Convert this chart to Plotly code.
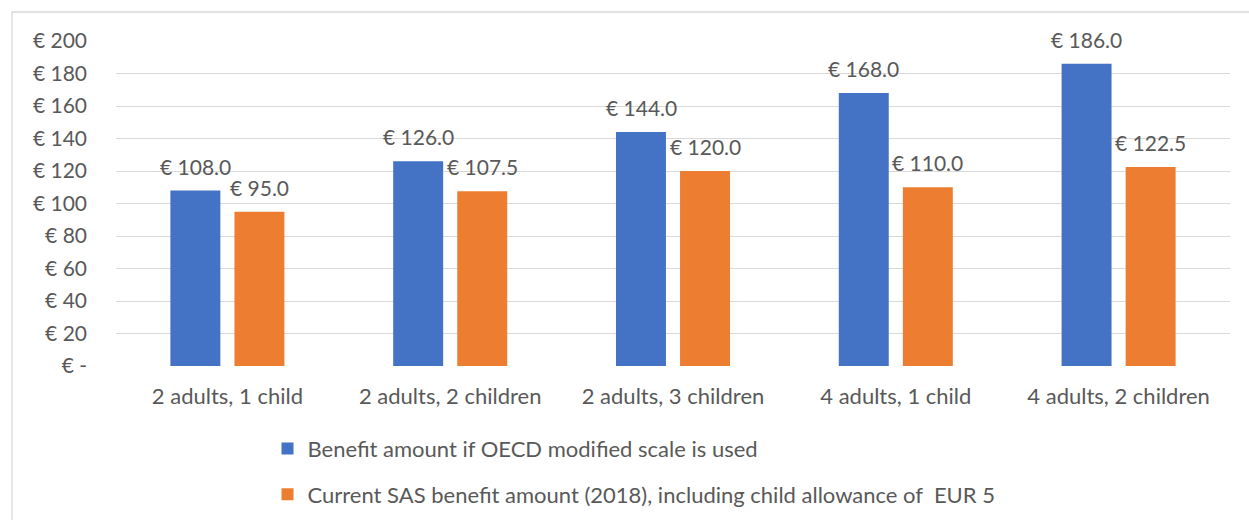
import plotly.graph_objects as go

categories = ["2 adults, 1 child", "2 adults, 2 children", "2 adults, 3 children",
              "4 adults, 1 child", "4 adults, 2 children"]
oecd_values = [108.0, 126.0, 144.0, 168.0, 186.0]
sas_values = [95.0, 107.5, 120.0, 110.0, 122.5]
series_names = ["Benefit amount if OECD modified scale is used",
                "Current SAS benefit amount (2018), including child allowance of  EUR 5"]
y_ticks = [0, 20, 40, 60, 80, 100, 120, 140, 160, 180, 200]
y_tick_labels = ["€ -"] + [f"€ {v}" for v in y_ticks[1:]]

BLUE = "#4472C4"
ORANGE = "#ED7D31"
TEXT = "#595959"
GRID = "#D9D9D9"
FONT = "Lato"

fig = go.Figure()
fig.add_trace(go.Bar(x=categories, y=oecd_values, name=series_names[0],
                     marker=dict(color=BLUE, line=dict(width=0)),
                     legendgroup="a"))
fig.add_trace(go.Bar(x=categories, y=sas_values, name=series_names[1],
                     marker=dict(color=ORANGE, line=dict(width=0)),
                     legendgroup="b"))

# value labels above each bar
annotations = []
for series, shift in ((oecd_values, -32), (sas_values, 32)):
    for cat, val in zip(categories, series):
        annotations.append(dict(x=cat, y=val, xref="x", yref="y", text=f"€ {val:.1f}",
                                showarrow=False, xshift=shift, yanchor="bottom", yshift=10,
                                font=dict(family=FONT, size=21, color=TEXT)))

fig.update_layout(
    width=1249, height=520,
    margin=dict(l=116, r=19, t=41, b=154, autoexpand=False),
    paper_bgcolor="white", plot_bgcolor="white",
    barmode="group", bargap=0.425, bargroupgap=0.22,
    font=dict(family=FONT, size=22, color=TEXT),
    annotations=annotations,
    showlegend=True,
    legend=dict(orientation="v", x=0.136, xanchor="left", y=-0.19, yanchor="top",
                font=dict(family=FONT, size=22, color=TEXT), tracegroupgap=14,
                bgcolor="rgba(0,0,0,0)"),
    shapes=[dict(type="rect", xref="paper", yref="paper",
                 x0=(12 - 116) / 1114, x1=1.1, y0=-0.7, y1=(366 - 12) / 325,
                 line=dict(color=GRID, width=1.3), fillcolor="rgba(0,0,0,0)", layer="below")],
)
fig.update_xaxes(showgrid=False, showline=False, ticks="", zeroline=False,
                 ticklabelstandoff=15,
                 tickfont=dict(family=FONT, size=22, color=TEXT))
fig.update_yaxes(range=[0, 200], tickvals=y_ticks, ticktext=y_tick_labels,
                 showgrid=True, gridcolor=GRID, gridwidth=1.3, zeroline=False,
                 showline=False, ticks="", ticklabelstandoff=28,
                 tickfont=dict(family=FONT, size=21, color=TEXT))

fig.write_html("out.html")
